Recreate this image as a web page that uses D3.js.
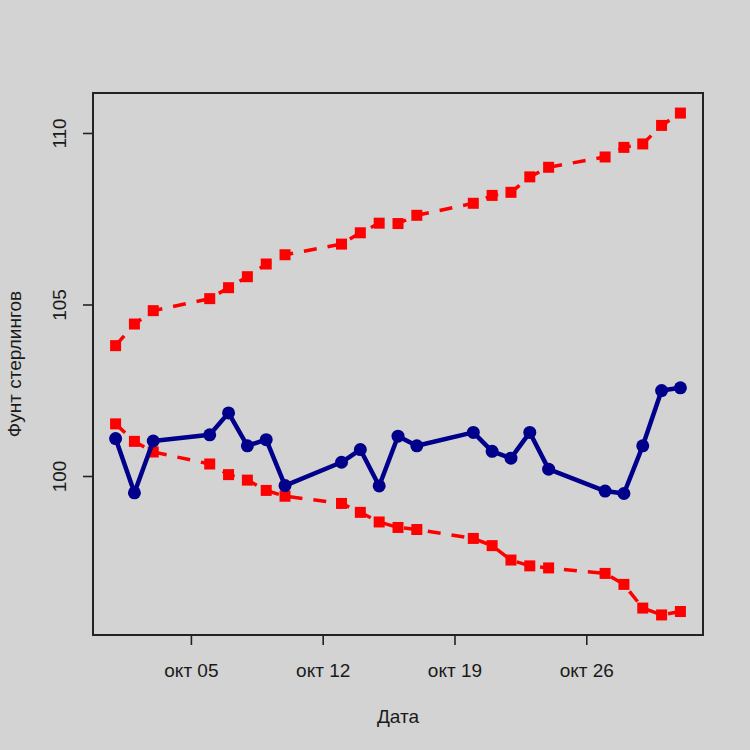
<!DOCTYPE html>
<html>
<head>
<meta charset="utf-8">
<script src="https://cdn.jsdelivr.net/npm/d3@7"></script>
<style>
  html, body { margin: 0; padding: 0; background: #d3d3d3; }
  svg { display: block; }
  text { font-family: "Liberation Sans", Arial, sans-serif; fill: #1a1a1a; }
</style>
</head>
<body>
<svg id="chart" width="750" height="750"></svg>
<script>
// ---- data ----
const dates = ["2014-10-01","2014-10-02","2014-10-03","2014-10-06","2014-10-07","2014-10-08","2014-10-09","2014-10-10",
  "2014-10-13","2014-10-14","2014-10-15","2014-10-16","2014-10-17","2014-10-20","2014-10-21","2014-10-22","2014-10-23",
  "2014-10-24","2014-10-27","2014-10-28","2014-10-29","2014-10-30","2014-10-31"];
const gbp = [101.09, 99.51, 101.02, 101.20, 101.84, 100.88, 101.06, 99.72, 100.40, 100.77, 99.71, 101.16, 100.88,
  101.27, 100.72, 100.52, 101.27, 100.20, 99.56, 99.49, 100.88, 102.49, 102.57];
const upper = [103.80, 104.43, 104.82, 105.17, 105.49, 105.81, 106.18, 106.45, 106.76, 107.09, 107.37, 107.36, 107.60,
  107.95, 108.18, 108.27, 108.72, 109.00, 109.30, 109.58, 109.68, 110.22, 110.58];
const lower = [101.52, 101.01, 100.70, 100.35, 100.04, 99.88, 99.58, 99.41, 99.20, 98.94, 98.66, 98.50, 98.44,
  98.18, 97.97, 97.55, 97.38, 97.32, 97.16, 96.84, 96.15, 95.95, 96.05];
const xTickDates = ["2014-10-05","2014-10-12","2014-10-19","2014-10-26"];
const xTickLabels = ["окт 05","окт 12","окт 19","окт 26"];
const yTicks = [100, 105, 110];
const xTitle = "Дата";
const yTitle = "Фунт стерлингов";

// ---- layout ----
const svg = d3.select("#chart");
const L = 93, R = 703, T = 93, B = 635;
const parse = d3.utcParse("%Y-%m-%d");
const dx = dates.map(parse);
const day = 86400000;

// R-style 4% axis extension
const xExt = d3.extent(dx);
const xPad = (xExt[1] - xExt[0]) * 0.04;
const x = d3.scaleUtc().domain([new Date(+xExt[0] - xPad), new Date(+xExt[1] + xPad)]).range([L, R]);
const allY = gbp.concat(upper, lower);
const yExt = d3.extent(allY);
const yPad = (yExt[1] - yExt[0]) * 0.04;
const y = d3.scaleLinear().domain([yExt[0] - yPad, yExt[1] + yPad]).range([B, T]);

svg.append("rect").attr("width", 750).attr("height", 750).attr("fill", "#d3d3d3");

// axes
const xAxis = d3.axisBottom(x)
  .tickValues(xTickDates.map(parse))
  .tickFormat((d, i) => xTickLabels[i])
  .tickSize(10).tickPadding(0);
const gx = svg.append("g").attr("transform", `translate(0,${B})`).call(xAxis);
gx.select(".domain").remove();
gx.selectAll(".tick line").attr("stroke", "#222").attr("stroke-width", 1.6);
gx.selectAll(".tick text").attr("font-size", 19).attr("fill", "#1a1a1a")
  .attr("dy", null).attr("y", 42).attr("font-family", "'Liberation Sans', Arial, sans-serif");

const yAxis = d3.axisLeft(y).tickValues(yTicks).tickFormat(d3.format("d")).tickSize(10);
const gy = svg.append("g").attr("transform", `translate(${L},0)`).call(yAxis);
gy.select(".domain").remove();
gy.selectAll(".tick line").attr("stroke", "#222").attr("stroke-width", 1.6);
gy.selectAll(".tick text")
  .attr("font-size", 19).attr("fill", "#1a1a1a")
  .attr("font-family", "'Liberation Sans', Arial, sans-serif")
  .attr("x", null).attr("dy", null)
  .attr("text-anchor", "middle")
  .attr("transform", "translate(-27,0) rotate(-90)");

// box
svg.append("rect").attr("x", L).attr("y", T).attr("width", R - L).attr("height", B - T)
  .attr("fill", "none").attr("stroke", "#222").attr("stroke-width", 2);

// titles
svg.append("text").attr("x", (L + R) / 2).attr("y", 723).attr("text-anchor", "middle")
  .attr("font-size", 19).text(xTitle);
svg.append("text").attr("transform", `translate(21,${(T + B) / 2}) rotate(-90)`)
  .attr("text-anchor", "middle").attr("font-size", 19).text(yTitle);

// series
const line = vals => d3.line().x((d, i) => x(dx[i])).y(d => y(d))(vals);

[upper, lower].forEach(vals => {
  svg.append("path").attr("d", line(vals)).attr("fill", "none")
    .attr("stroke", "#ff0000").attr("stroke-width", 3.5).attr("stroke-dasharray", "13,11");
  svg.append("g").selectAll("rect").data(vals).join("rect")
    .attr("x", (d, i) => x(dx[i]) - 5.5).attr("y", d => y(d) - 5.5)
    .attr("width", 11).attr("height", 11).attr("fill", "#ff0000");
});

svg.append("path").attr("d", line(gbp)).attr("fill", "none")
  .attr("stroke", "#00008b").attr("stroke-width", 4.5).attr("stroke-linejoin", "round");
svg.append("g").selectAll("circle").data(gbp).join("circle")
  .attr("cx", (d, i) => x(dx[i])).attr("cy", d => y(d)).attr("r", 6.5).attr("fill", "#00008b");
</script>
</body>
</html>
